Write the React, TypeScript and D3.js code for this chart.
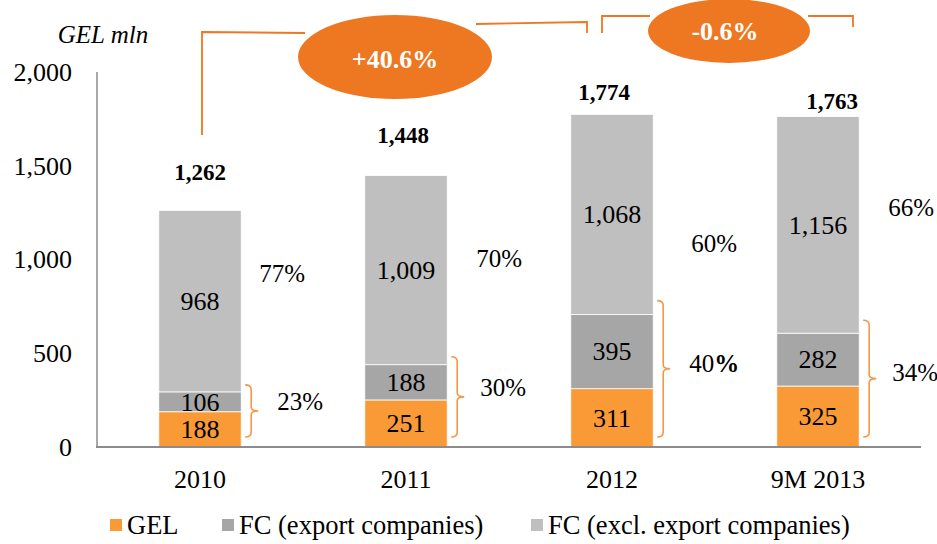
import React from 'react';
import * as d3 from 'd3';

// chart data
const categories = ['2010', '2011', '2012', '9M 2013'];
const gel = [188, 251, 311, 325];
const fcExport = [106, 188, 395, 282];
const fcExcl = [968, 1009, 1068, 1156];
const totals = [1262, 1448, 1774, 1763];
const exclShare = ['77%', '70%', '60%', '66%'];
const fcShare = ['23', '30', '40', '34'];
const yTicks = [0, 500, 1000, 1500, 2000];
const growth = ['+40.6%', '-0.6%'];
const seriesKeys = ['gel', 'fcExport', 'fcExcl'];
const seriesNames = ['GEL', 'FC (export companies)', 'FC (excl. export companies)'];
const seriesColors = ['#FA9A37', '#A6A6A6', '#BFBFBF'];

const width = 937;
const height = 544;
const font = '"Liberation Serif", "Times New Roman", serif';
const orange = '#EE7722';
const braceColor = '#F79646';

// label placement tweaks (px), per category
const totalDx = [0, -3, -8, 14];
const totalDy = [-38, -40, -22, -15];
const exclLabelDx = [41, 52, 61, 52];
const exclLabelVal = [928, 1003, 1088, 1275];
const fcLabelDx = [59, 56, 61, 56];
const fcLabelVal = [245, 315, 443, 400];
const braceTopPad = [7, 8, 14, 13];

export default function App() {
  const y = d3.scaleLinear().domain([0, 2000]).range([447, 72]);
  const x = d3.scaleBand().domain(categories).range([97, 921]).paddingInner(0.6).paddingOuter(0.3);
  const bw = x.bandwidth();

  const rows = categories.map((c, i) => ({ cat: c, gel: gel[i], fcExport: fcExport[i], fcExcl: fcExcl[i] }));
  const stacked = d3.stack().keys(seriesKeys)(rows as any);

  const cx = (i) => (x(categories[i]) as number) + bw / 2;
  const right = (i) => (x(categories[i]) as number) + bw;

  const brace = (i) => {
    const top = y(gel[i] + fcExport[i]) - braceTopPad[i];
    const bottom = y(0) - 10;
    const mid = (top + bottom) / 2;
    const l = right(i) + 4;
    const v = right(i) + 10;
    const t = right(i) + 17;
    return `M${l},${top} Q${v},${top} ${v},${top + 5} V${mid - 4} Q${v},${mid} ${t},${mid} Q${v},${mid} ${v},${mid + 4} V${bottom - 5} Q${v},${bottom} ${l},${bottom}`;
  };

  // growth call-outs
  const e1 = { x: 395, y: 57, rx: 97, ry: 42 };
  const e2 = { x: 729, y: 31, rx: 81, ry: 32 };

  return (
    <svg width={width} height={height} style={{ position: 'absolute', left: 0, top: 0, background: '#fff' }} fontFamily={font}>
      {/* axis title */}
      <text x={103} y={43} fontSize={25} fontStyle="italic" textAnchor="middle">GEL mln</text>

      {/* y ticks */}
      {yTicks.map((t) => (
        <text key={t} x={72} y={y(t)} dy="0.34em" fontSize={26} textAnchor="end">{d3.format(',')(t)}</text>
      ))}

      {/* bars */}
      {stacked.map((s, si) => (
        <g key={s.key} fill={seriesColors[si]}>
          {s.map((d, i) => (
            <rect key={i} x={x(categories[i])} y={y(d[1])} width={bw} height={y(d[0]) - y(d[1])} stroke="#fff" strokeWidth={0.8} />
          ))}
        </g>
      ))}

      {/* segment values */}
      {stacked.map((s, si) => s.map((d, i) => (
        <text key={s.key + i} x={cx(i)} y={(y(d[0]) + y(d[1])) / 2} dy="0.34em" fontSize={26} textAnchor="middle">
          {d3.format(',')(d.data[s.key])}
        </text>
      )))}

      {/* axes */}
      <line x1={97} x2={97} y1={y(2000)} y2={y(0)} stroke="#8c8c8c" strokeWidth={1.5} />
      <line x1={96} x2={921} y1={y(0)} y2={y(0)} stroke="#8c8c8c" strokeWidth={2} />

      {/* category labels */}
      {categories.map((c, i) => (
        <text key={c} x={cx(i)} y={479} dy="0.34em" fontSize={26} textAnchor="middle">{c}</text>
      ))}

      {/* totals */}
      {totals.map((t, i) => (
        <text key={i} x={cx(i) + totalDx[i]} y={y(t) + totalDy[i]} dy="0.34em" fontSize={23} fontWeight="bold" textAnchor="middle">
          {d3.format(',')(t)}
        </text>
      ))}

      {/* shares */}
      {exclShare.map((p, i) => (
        <text key={'e' + i} x={right(i) + exclLabelDx[i]} y={y(exclLabelVal[i])} dy="0.34em" fontSize={25} textAnchor="middle">{p}</text>
      ))}
      {fcShare.map((p, i) => (
        <text key={'f' + i} x={right(i) + fcLabelDx[i]} y={y(fcLabelVal[i])} dy="0.34em" fontSize={25} textAnchor="middle">
          {p}<tspan fontWeight={i === 2 ? 'bold' : 'normal'}>%</tspan>
        </text>
      ))}

      {/* braces */}
      {categories.map((c, i) => (
        <path key={'b' + c} d={brace(i)} fill="none" stroke={braceColor} strokeWidth={1.6} />
      ))}

      {/* connectors */}
      <g fill="none" stroke={orange} strokeWidth={1.8}>
        <path d={`M${cx(0) + 2},135 V32 L305,33`} />
        <path d={`M476,24 L${cx(2) - 25},22 V33`} />
        <path d={`M${cx(2) - 10},33 V16 H650`} />
        <path d={`M808,16 H${cx(3) + 35} V27`} />
      </g>
      <ellipse cx={e1.x} cy={e1.y} rx={e1.rx} ry={e1.ry} fill={orange} />
      <ellipse cx={e2.x} cy={e2.y} rx={e2.rx} ry={e2.ry} fill={orange} />
      <text x={e1.x} y={e1.y + 2} dy="0.34em" fontSize={26} fontWeight="bold" fill="#fff" textAnchor="middle">{growth[0]}</text>
      <text x={e2.x - 4} y={e2.y} dy="0.34em" fontSize={26} fontWeight="bold" fill="#fff" textAnchor="middle">{growth[1]}</text>

      {/* legend */}
      {seriesNames.map((n, i) => {
        const lx = [110, 222, 531][i];
        return (
          <g key={n}>
            <rect x={lx} y={519} width={12} height={12} fill={seriesColors[i]} />
            <text x={lx + 17} y={525} dy="0.34em" fontSize={26.5}>{n}</text>
          </g>
        );
      })}
    </svg>
  );
}
